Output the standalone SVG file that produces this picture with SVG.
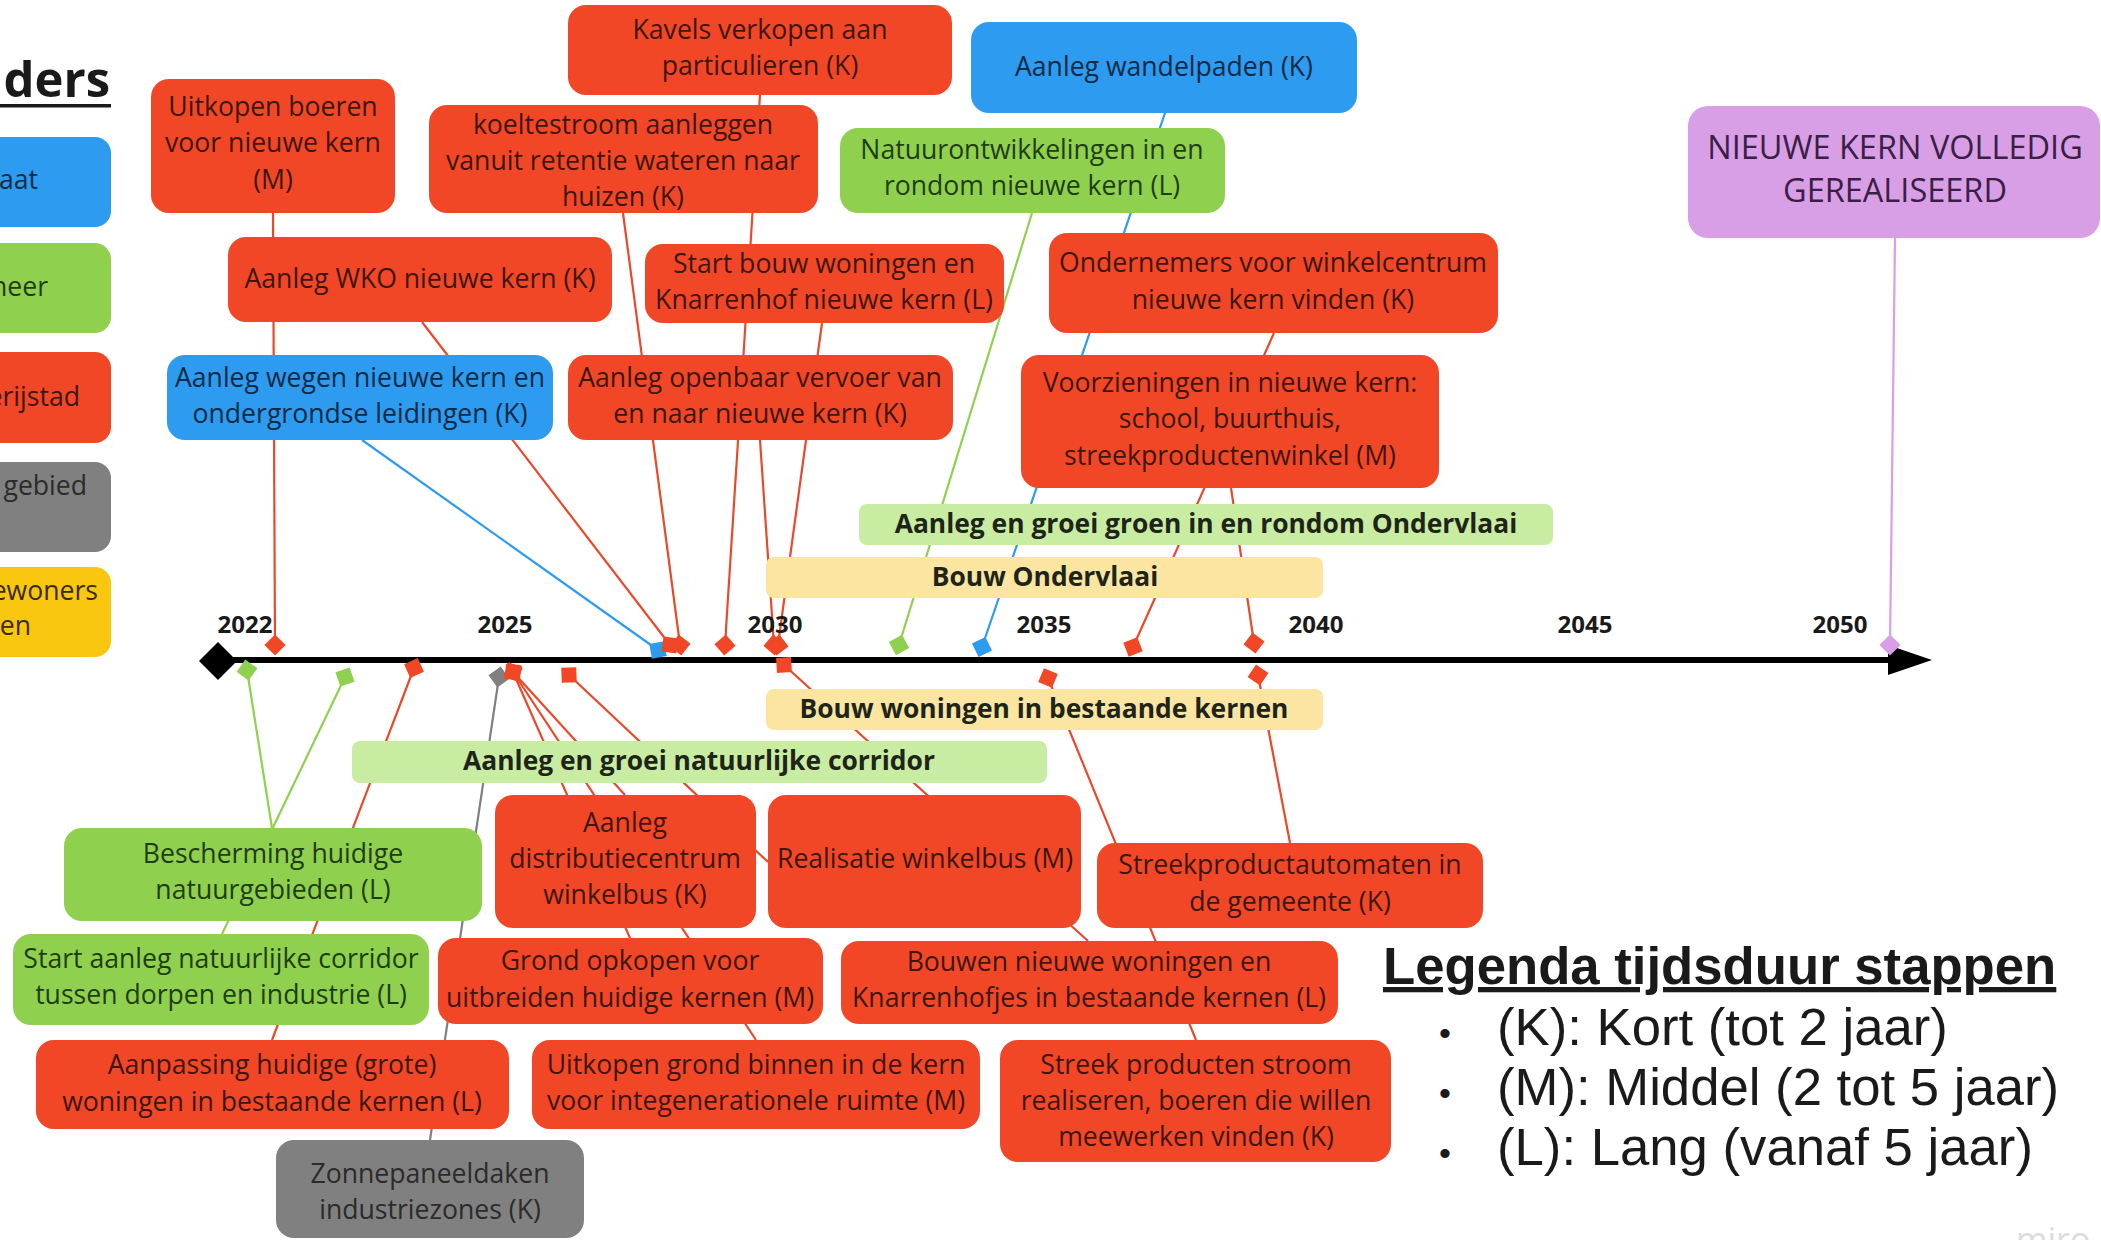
<svg xmlns="http://www.w3.org/2000/svg" width="2101" height="1240" viewBox="0 0 2101 1240">
<defs>
<style>
.t{font-family:"Open Sans","Noto Sans","DejaVu Sans",sans-serif;font-size:26.6px;text-anchor:middle}
.tb{font-family:"Open Sans","Noto Sans","DejaVu Sans",sans-serif;font-size:26.4px;font-weight:700;text-anchor:middle;fill:#1e2418}
.yr{font-family:"Open Sans","Noto Sans","DejaVu Sans",sans-serif;font-size:24px;font-weight:700;text-anchor:middle;fill:#1a1a1a}
.lg{font-family:"Liberation Sans",Arial,sans-serif;font-size:52.7px;fill:#1a1a1a}
.red rect{fill:#f24726}.red text{fill:#3d1610}
.blue rect{fill:#2d9bf0}.blue text{fill:#0f2a45}
.green rect{fill:#8fd14f}.green text{fill:#1f3d10}
.gray rect{fill:#808080}.gray text{fill:#2b2b2b}
.yellow rect{fill:#fac710}.yellow text{fill:#3a2a05}
.purple rect{fill:#d89ee6}.purple text{fill:#3a1f45}
.lgreen rect{fill:#c8eca2}
.lyellow rect{fill:#fbe5a1}
.cr{stroke:#e9492a;stroke-width:2.2;fill:none}
.cb{stroke:#2d9bf0;stroke-width:2.2;fill:none}
.cg{stroke:#8fd14f;stroke-width:2.2;fill:none}
.cy{stroke:#808080;stroke-width:2.2;fill:none}
.cp{stroke:#d89ee6;stroke-width:2.2;fill:none}
.mr{fill:#f24726}.mb{fill:#2d9bf0}.mg{fill:#8fd14f}.my{fill:#808080}.mp{fill:#d89ee6}
</style>
<rect id="dm" x="-7.5" y="-7.5" width="15" height="15"/>
</defs>
<rect width="2101" height="1240" fill="#ffffff"/>

<!-- partial legend on the left -->
<g id="legend-left">
<text x="110" y="97" style="font-family:'Open Sans','Noto Sans',sans-serif;font-size:49px;font-weight:700;text-anchor:end;fill:#1a1a1a">ders</text>
<rect x="0" y="104" width="111" height="3.5" fill="#1a1a1a"/>
<g id="lg-blue" class="blue"><rect x="-30" y="137" width="141" height="90" rx="16"/><text class="t" x="38" y="189" style="text-anchor:end">aat</text></g>
<g id="lg-green" class="green"><rect x="-30" y="243" width="141" height="90" rx="16"/><text class="t" x="48" y="296" style="text-anchor:end">neer</text></g>
<g id="lg-red" class="red"><rect x="-30" y="352" width="141" height="91" rx="16"/><text class="t" x="80" y="406" style="text-anchor:end">erijstad</text></g>
<g id="lg-gray" class="gray"><rect x="-30" y="462" width="141" height="90" rx="16"/><text class="t" x="87" y="495" style="text-anchor:end">gebied</text></g>
<g id="lg-yellow" class="yellow"><rect x="-30" y="567" width="141" height="90" rx="16"/><text class="t" x="98" y="600" style="text-anchor:end">ewoners</text><text class="t" x="31" y="635" style="text-anchor:end">en</text></g>
</g>

<g id="connectors">
<line class="cr" x1="273" y1="213" x2="275" y2="645"/>
<line class="cr" x1="422" y1="322" x2="670" y2="645"/>
<line class="cr" x1="623" y1="213" x2="680" y2="645"/>
<line class="cr" x1="760" y1="95" x2="725" y2="645"/>
<line class="cr" x1="822" y1="323" x2="778" y2="645"/>
<line class="cr" x1="760" y1="440" x2="774" y2="645"/>
<line class="cr" x1="1274" y1="333" x2="1133" y2="647"/>
<line class="cr" x1="1231" y1="488" x2="1254" y2="643"/>
<line class="cb" x1="362" y1="440" x2="658" y2="650"/>
<line class="cb" x1="1165" y1="113" x2="982" y2="647"/>
<line class="cg" x1="1032" y1="213" x2="899" y2="645"/>
<line class="cp" x1="1895" y1="238" x2="1890" y2="645"/>
<line class="cg" x1="247" y1="670" x2="272" y2="828"/>
<line class="cg" x1="345" y1="677" x2="222" y2="934"/>
<line class="cr" x1="414" y1="668" x2="272" y2="1040"/>
<line class="cy" x1="499" y1="677" x2="430" y2="1140"/>
<line class="cr" x1="513" y1="672" x2="625" y2="795"/>
<line class="cr" x1="513" y1="672" x2="630" y2="938"/>
<line class="cr" x1="513" y1="672" x2="756" y2="1040"/>
<line class="cr" x1="569" y1="675" x2="768" y2="862"/>
<line class="cr" x1="784" y1="665" x2="1088" y2="941"/>
<line class="cr" x1="1048" y1="678" x2="1196" y2="1040"/>
<line class="cr" x1="1258" y1="675" x2="1290" y2="843"/>
</g>

<g id="timeline">
<line x1="216" y1="660" x2="1892" y2="660" stroke="#000" stroke-width="6"/>
<polygon points="1888,645 1932,660 1888,675" fill="#000"/>
<polygon points="199,661 218,642 237,661 218,680" fill="#000"/>
<text class="yr" x="245" y="633">2022</text>
<text class="yr" x="505" y="633">2025</text>
<text class="yr" x="775" y="633">2030</text>
<text class="yr" x="1044" y="633">2035</text>
<text class="yr" x="1316" y="633">2040</text>
<text class="yr" x="1585" y="633">2045</text>
<text class="yr" x="1840" y="633">2050</text>
</g>

<g id="markers">
<use href="#dm" class="mr" transform="translate(275 645) rotate(45)"/>
<use href="#dm" class="mb" transform="translate(658 650) rotate(-10)"/>
<use href="#dm" class="mr" transform="translate(670 645) rotate(8)"/>
<use href="#dm" class="mr" transform="translate(680 645) rotate(38)"/>
<use href="#dm" class="mr" transform="translate(725 645) rotate(49)"/>
<use href="#dm" class="mr" transform="translate(774 645) rotate(41)"/>
<use href="#dm" class="mr" transform="translate(778 645) rotate(53)"/>
<use href="#dm" class="mg" transform="translate(899 645) rotate(62)"/>
<use href="#dm" class="mb" transform="translate(982 647) rotate(64)"/>
<use href="#dm" class="mr" transform="translate(1133 647) rotate(69)"/>
<use href="#dm" class="mr" transform="translate(1254 643) rotate(37)"/>
<use href="#dm" class="mp" transform="translate(1890 645) rotate(45)"/>
<use href="#dm" class="mg" transform="translate(247 670) rotate(36)"/>
<use href="#dm" class="mg" transform="translate(345 677) rotate(71)"/>
<use href="#dm" class="mr" transform="translate(414 668) rotate(66)"/>
<use href="#dm" class="my" transform="translate(499 677) rotate(54)"/>
<use href="#dm" class="mr" transform="translate(513 672) rotate(3)"/>
<use href="#dm" class="mr" transform="translate(513 672) rotate(21)"/>
<use href="#dm" class="mr" transform="translate(513 672) rotate(12)"/>
<use href="#dm" class="mr" transform="translate(569 675) rotate(-2)"/>
<use href="#dm" class="mr" transform="translate(784 665) rotate(-3)"/>
<use href="#dm" class="mr" transform="translate(1048 678) rotate(23)"/>
<use href="#dm" class="mr" transform="translate(1258 675) rotate(34)"/>
</g>

<g id="n-uitkopen-boeren" class="red"><rect x="151" y="79" width="244" height="134" rx="18"/><text class="t"><tspan x="273" y="116">Uitkopen boeren</tspan><tspan x="273" y="152">voor nieuwe kern</tspan><tspan x="273" y="189">(M)</tspan></text></g>
<g id="n-kavels" class="red"><rect x="568" y="5" width="384" height="90" rx="18"/><text class="t"><tspan x="760" y="39">Kavels verkopen aan</tspan><tspan x="760" y="75">particulieren (K)</tspan></text></g>
<g id="n-wandelpaden" class="blue"><rect x="971" y="22" width="386" height="91" rx="18"/><text class="t" x="1164" y="76">Aanleg wandelpaden (K)</text></g>
<g id="n-koeltestroom" class="red"><rect x="429" y="105" width="389" height="108" rx="18"/><text class="t"><tspan x="623" y="134">koeltestroom aanleggen</tspan><tspan x="623" y="170">vanuit retentie wateren naar</tspan><tspan x="623" y="206">huizen (K)</tspan></text></g>
<g id="n-natuurontwikkelingen" class="green"><rect x="840" y="128" width="385" height="85" rx="18"/><text class="t"><tspan x="1032" y="159">Natuurontwikkelingen in en</tspan><tspan x="1032" y="195">rondom nieuwe kern (L)</tspan></text></g>
<g id="n-nieuwe-kern-gerealiseerd" class="purple"><rect x="1688" y="106" width="412" height="132" rx="20"/><text class="t" style="font-size:32.5px"><tspan x="1895" y="159">NIEUWE KERN VOLLEDIG</tspan><tspan x="1895" y="202">GEREALISEERD</tspan></text></g>
<g id="n-wko" class="red"><rect x="228" y="237" width="384" height="85" rx="18"/><text class="t" x="420" y="288">Aanleg WKO nieuwe kern (K)</text></g>
<g id="n-start-bouw" class="red"><rect x="645" y="244" width="359" height="79" rx="18"/><text class="t"><tspan x="824" y="273">Start bouw woningen en</tspan><tspan x="824" y="309">Knarrenhof nieuwe kern (L)</tspan></text></g>
<g id="n-ondernemers" class="red"><rect x="1049" y="233" width="449" height="100" rx="18"/><text class="t"><tspan x="1273" y="272">Ondernemers voor winkelcentrum</tspan><tspan x="1273" y="309">nieuwe kern vinden (K)</tspan></text></g>
<g id="n-aanleg-wegen" class="blue"><rect x="167" y="355" width="386" height="85" rx="18"/><text class="t"><tspan x="360" y="387">Aanleg wegen nieuwe kern en</tspan><tspan x="360" y="423">ondergrondse leidingen (K)</tspan></text></g>
<g id="n-openbaar-vervoer" class="red"><rect x="568" y="355" width="385" height="85" rx="18"/><text class="t"><tspan x="760" y="387">Aanleg openbaar vervoer van</tspan><tspan x="760" y="423">en naar nieuwe kern (K)</tspan></text></g>
<g id="n-voorzieningen" class="red"><rect x="1021" y="355" width="418" height="133" rx="18"/><text class="t"><tspan x="1230" y="392">Voorzieningen in nieuwe kern:</tspan><tspan x="1230" y="428">school, buurthuis,</tspan><tspan x="1230" y="465">streekproductenwinkel (M)</tspan></text></g>

<g id="b-groen-ondervlaai" class="lgreen"><rect x="859" y="504" width="694" height="41" rx="8"/><text class="tb" x="1206" y="533">Aanleg en groei groen in en rondom Ondervlaai</text></g>
<g id="b-bouw-ondervlaai" class="lyellow"><rect x="766" y="557" width="557" height="41" rx="8"/><text class="tb" x="1045" y="586">Bouw Ondervlaai</text></g>
<g id="b-bouw-woningen" class="lyellow"><rect x="766" y="689" width="557" height="41" rx="8"/><text class="tb" x="1044" y="718">Bouw woningen in bestaande kernen</text></g>
<g id="b-corridor" class="lgreen"><rect x="352" y="741" width="695" height="42" rx="8"/><text class="tb" x="699" y="770">Aanleg en groei natuurlijke corridor</text></g>

<g id="n-bescherming" class="green"><rect x="64" y="828" width="418" height="93" rx="18"/><text class="t"><tspan x="273" y="863">Bescherming huidige</tspan><tspan x="273" y="899">natuurgebieden (L)</tspan></text></g>
<g id="n-start-aanleg-corridor" class="green"><rect x="13" y="934" width="416" height="91" rx="18"/><text class="t"><tspan x="221" y="968">Start aanleg natuurlijke corridor</tspan><tspan x="221" y="1004">tussen dorpen en industrie (L)</tspan></text></g>
<g id="n-aanpassing" class="red"><rect x="36" y="1040" width="473" height="89" rx="18"/><text class="t"><tspan x="272" y="1074">Aanpassing huidige (grote)</tspan><tspan x="272" y="1111">woningen in bestaande kernen (L)</tspan></text></g>
<g id="n-zonnepaneel" class="gray"><rect x="276" y="1140" width="308" height="98" rx="18"/><text class="t"><tspan x="430" y="1183">Zonnepaneeldaken</tspan><tspan x="430" y="1219">industriezones (K)</tspan></text></g>
<g id="n-distributie" class="red"><rect x="495" y="795" width="261" height="133" rx="18"/><text class="t"><tspan x="625" y="832">Aanleg</tspan><tspan x="625" y="868">distributiecentrum</tspan><tspan x="625" y="904">winkelbus (K)</tspan></text></g>
<g id="n-realisatie" class="red"><rect x="768" y="795" width="313" height="133" rx="18"/><text class="t" x="925" y="868">Realisatie winkelbus (M)</text></g>
<g id="n-streekautomaten" class="red"><rect x="1097" y="843" width="386" height="85" rx="18"/><text class="t"><tspan x="1290" y="874">Streekproductautomaten in</tspan><tspan x="1290" y="911">de gemeente (K)</tspan></text></g>
<g id="n-grond-opkopen" class="red"><rect x="438" y="938" width="385" height="86" rx="18"/><text class="t"><tspan x="630" y="970">Grond opkopen voor</tspan><tspan x="630" y="1007">uitbreiden huidige kernen (M)</tspan></text></g>
<g id="n-bouwen-nieuwe" class="red"><rect x="841" y="941" width="497" height="83" rx="18"/><text class="t"><tspan x="1089" y="971">Bouwen nieuwe woningen en</tspan><tspan x="1089" y="1007">Knarrenhofjes in bestaande kernen (L)</tspan></text></g>
<g id="n-uitkopen-grond" class="red"><rect x="532" y="1040" width="448" height="89" rx="18"/><text class="t"><tspan x="756" y="1074">Uitkopen grond binnen in de kern</tspan><tspan x="756" y="1110">voor integenerationele ruimte (M)</tspan></text></g>
<g id="n-streek-stroom" class="red"><rect x="1000" y="1040" width="391" height="122" rx="18"/><text class="t"><tspan x="1196" y="1074">Streek producten stroom</tspan><tspan x="1196" y="1110">realiseren, boeren die willen</tspan><tspan x="1196" y="1146">meewerken vinden (K)</tspan></text></g>

<g id="legend-duration">
<text class="lg" x="1383" y="984" style="font-weight:700;text-decoration:underline">Legenda tijdsduur stappen</text>
<text class="lg" x="1439" y="1045" style="font-size:34px">•</text><text class="lg" x="1497" y="1045">(K): Kort (tot 2 jaar)</text>
<text class="lg" x="1439" y="1105" style="font-size:34px">•</text><text class="lg" x="1497" y="1105">(M): Middel (2 tot 5 jaar)</text>
<text class="lg" x="1439" y="1165" style="font-size:34px">•</text><text class="lg" x="1497" y="1165">(L): Lang (vanaf 5 jaar)</text>
</g>
<text x="2016" y="1252" style="font-family:'Open Sans',sans-serif;font-size:34px;fill:#dcdcdc">miro</text>
</svg>
